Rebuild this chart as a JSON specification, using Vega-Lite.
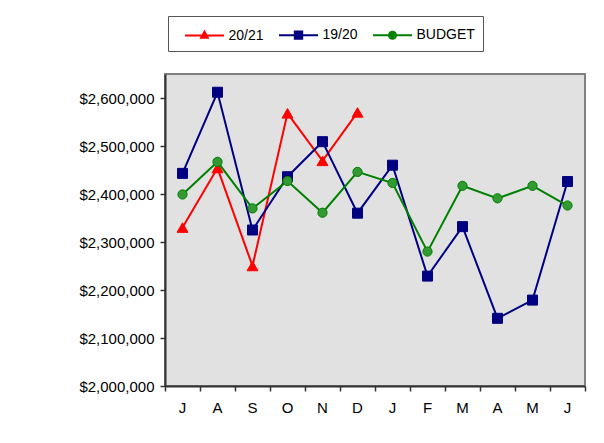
{
  "$schema": "https://vega.github.io/schema/vega-lite/v6.json",
  "width": 420,
  "height": 312,
  "autosize": {"type": "none"},
  "padding": {"left": 165, "top": 74, "right": 19, "bottom": 57},
  "background": "white",
  "config": {
    "view": {"fill": "#e1e1e1", "stroke": "#808080", "strokeWidth": 2},
    "font": "Liberation Sans"
  },
  "data": {
    "values": [
      {"month": "Jul", "series": "20/21", "value": 2330000},
      {"month": "Aug", "series": "20/21", "value": 2454000},
      {"month": "Sep", "series": "20/21", "value": 2250000},
      {"month": "Oct", "series": "20/21", "value": 2568000},
      {"month": "Nov", "series": "20/21", "value": 2469000},
      {"month": "Dec", "series": "20/21", "value": 2570000},
      {"month": "Jul", "series": "19/20", "value": 2443000},
      {"month": "Aug", "series": "19/20", "value": 2612000},
      {"month": "Sep", "series": "19/20", "value": 2325000},
      {"month": "Oct", "series": "19/20", "value": 2436000},
      {"month": "Nov", "series": "19/20", "value": 2509000},
      {"month": "Dec", "series": "19/20", "value": 2360000},
      {"month": "Jan", "series": "19/20", "value": 2460000},
      {"month": "Feb", "series": "19/20", "value": 2229000},
      {"month": "Mar", "series": "19/20", "value": 2332000},
      {"month": "Apr", "series": "19/20", "value": 2141000},
      {"month": "May", "series": "19/20", "value": 2179000},
      {"month": "Jun", "series": "19/20", "value": 2426000},
      {"month": "Jul", "series": "BUDGET", "value": 2399000},
      {"month": "Aug", "series": "BUDGET", "value": 2467000},
      {"month": "Sep", "series": "BUDGET", "value": 2370000},
      {"month": "Oct", "series": "BUDGET", "value": 2427000},
      {"month": "Nov", "series": "BUDGET", "value": 2361000},
      {"month": "Dec", "series": "BUDGET", "value": 2446000},
      {"month": "Jan", "series": "BUDGET", "value": 2423000},
      {"month": "Feb", "series": "BUDGET", "value": 2280000},
      {"month": "Mar", "series": "BUDGET", "value": 2417000},
      {"month": "Apr", "series": "BUDGET", "value": 2391000},
      {"month": "May", "series": "BUDGET", "value": 2417000},
      {"month": "Jun", "series": "BUDGET", "value": 2376000}
    ]
  },
  "encoding": {
    "x": {
      "field": "month",
      "type": "ordinal",
      "sort": ["Jul", "Aug", "Sep", "Oct", "Nov", "Dec", "Jan", "Feb", "Mar", "Apr", "May", "Jun"],
      "scale": {"type": "band", "paddingInner": 0, "paddingOuter": 0},
      "axis": {
        "title": null,
        "labelAngle": 0,
        "labelExpr": "substring(datum.label, 0, 1)",
        "bandPosition": 1,
        "tickExtra": true,
        "tickSize": 5,
        "tickColor": "#333333",
        "tickWidth": 1.5,
        "domainColor": "#333333",
        "domainWidth": 2,
        "labelFontSize": 15,
        "labelPadding": 9,
        "labelColor": "black",
        "grid": false
      }
    },
    "y": {
      "field": "value",
      "type": "quantitative",
      "scale": {"domain": [2000000, 2650000], "nice": false, "zero": false},
      "axis": {
        "title": null,
        "values": [2000000, 2100000, 2200000, 2300000, 2400000, 2500000, 2600000],
        "format": "$,d",
        "grid": false,
        "tickSize": 5,
        "tickColor": "#333333",
        "tickWidth": 1.5,
        "domainColor": "#333333",
        "domainWidth": 2,
        "labelFontSize": 15,
        "labelPadding": 6,
        "labelColor": "black"
      }
    }
  },
  "layer": [
    {
      "mark": {"type": "line", "strokeWidth": 2},
      "encoding": {
        "color": {
          "field": "series",
          "type": "nominal",
          "scale": {"domain": ["20/21", "19/20", "BUDGET"], "range": ["#ff0000", "#000080", "#008000"]},
          "legend": {
            "orient": "none",
            "legendX": 3,
            "legendY": -58,
            "direction": "horizontal",
            "title": null,
            "padding": 8,
            "strokeColor": "#555555",
            "fillColor": "white",
            "labelFontSize": 14,
            "labelColor": "black",
            "symbolSize": 400,
            "symbolStrokeWidth": 2,
            "symbolOffset": 17.5,
            "labelOffset": 13,
            "columnPadding": 6,
            "symbolType": {"expr": "datum.value === '20/21' ? 'M-1.95,0H1.95M0,-0.38L0.33,0.22L-0.33,0.22ZM0,-0.15L0.14,0.12L-0.14,0.12ZM-0.03,0.05H0.03' : datum.value === '19/20' ? 'M-1.95,0H1.95M-0.37,-0.37H0.37V0.37H-0.37ZM-0.18,-0.18H0.18V0.18H-0.18ZM-0.03,0H0.03' : 'M-1.95,0H1.95M0.35,0A0.35,0.35 0 1,1 -0.35,0A0.35,0.35 0 1,1 0.35,0ZM0.15,0A0.15,0.15 0 1,1 -0.15,0A0.15,0.15 0 1,1 0.15,0Z'"}
          }
        }
      }
    },
    {
      "transform": [{"filter": "datum.series === '20/21'"}],
      "mark": {"type": "point", "shape": "triangle-up", "size": 120, "filled": true, "fill": "#ff0000", "stroke": "#ff0000", "strokeWidth": 1, "opacity": 1}
    },
    {
      "transform": [{"filter": "datum.series === '19/20'"}],
      "mark": {"type": "point", "shape": "square", "size": 100, "filled": true, "fill": "#000080", "stroke": "#000080", "strokeWidth": 1, "opacity": 1}
    },
    {
      "transform": [{"filter": "datum.series === 'BUDGET'"}],
      "mark": {"type": "point", "shape": "circle", "size": 85, "filled": true, "fill": "#339933", "stroke": "#008000", "strokeWidth": 1, "opacity": 1}
    }
  ]
}
